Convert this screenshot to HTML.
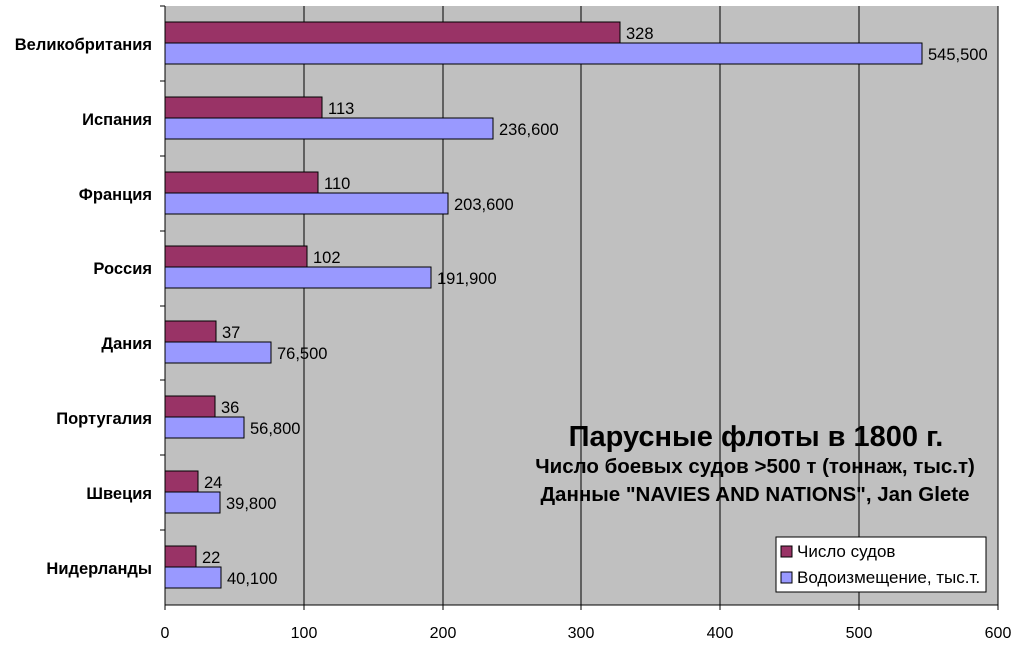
<!DOCTYPE html><html><head><meta charset="utf-8"><style>body{margin:0;background:#fff}svg{font-family:"Liberation Sans",sans-serif}</style></head><body>
<svg width="1018" height="645" xmlns="http://www.w3.org/2000/svg">
<rect x="165" y="6" width="833" height="599" fill="#c0c0c0"/>
<g stroke="#000" stroke-width="1">
<line x1="304" y1="6" x2="304" y2="605"/><line x1="443" y1="6" x2="443" y2="605"/><line x1="581" y1="6" x2="581" y2="605"/><line x1="720" y1="6" x2="720" y2="605"/><line x1="859" y1="6" x2="859" y2="605"/><line x1="998" y1="6" x2="998" y2="605"/>
<line x1="165" y1="6" x2="165" y2="605"/><line x1="165" y1="605" x2="998" y2="605"/>
</g>
<g stroke="#000" stroke-width="1">
<line x1="160" y1="6" x2="165" y2="6"/><line x1="160" y1="81" x2="165" y2="81"/><line x1="160" y1="156" x2="165" y2="156"/><line x1="160" y1="231" x2="165" y2="231"/><line x1="160" y1="306" x2="165" y2="306"/><line x1="160" y1="380" x2="165" y2="380"/><line x1="160" y1="455" x2="165" y2="455"/><line x1="160" y1="530" x2="165" y2="530"/>
<line x1="165" y1="605" x2="165" y2="610"/><line x1="304" y1="605" x2="304" y2="610"/><line x1="443" y1="605" x2="443" y2="610"/><line x1="581" y1="605" x2="581" y2="610"/><line x1="720" y1="605" x2="720" y2="610"/><line x1="859" y1="605" x2="859" y2="610"/><line x1="998" y1="605" x2="998" y2="610"/>
</g>
<g stroke="#000" stroke-width="1">
<rect x="165" y="22" width="455" height="21" fill="#993366"/><rect x="165" y="43" width="757" height="21" fill="#9999ff"/>
<rect x="165" y="97" width="157" height="21" fill="#993366"/><rect x="165" y="118" width="328" height="21" fill="#9999ff"/>
<rect x="165" y="172" width="153" height="21" fill="#993366"/><rect x="165" y="193" width="283" height="21" fill="#9999ff"/>
<rect x="165" y="246" width="142" height="21" fill="#993366"/><rect x="165" y="267" width="266" height="21" fill="#9999ff"/>
<rect x="165" y="321" width="51" height="21" fill="#993366"/><rect x="165" y="342" width="106" height="21" fill="#9999ff"/>
<rect x="165" y="396" width="50" height="21" fill="#993366"/><rect x="165" y="417" width="79" height="21" fill="#9999ff"/>
<rect x="165" y="471" width="33" height="21" fill="#993366"/><rect x="165" y="492" width="55" height="21" fill="#9999ff"/>
<rect x="165" y="546" width="31" height="21" fill="#993366"/><rect x="165" y="567" width="56" height="21" fill="#9999ff"/>
</g>
<g font-size="16.5" fill="#000">
<text x="626" y="39">328</text><text x="928" y="60">545,500</text>
<text x="328" y="114">113</text><text x="499" y="135">236,600</text>
<text x="324" y="189">110</text><text x="454" y="210">203,600</text>
<text x="313" y="263">102</text><text x="437" y="284">191,900</text>
<text x="222" y="338">37</text><text x="277" y="359">76,500</text>
<text x="221" y="413">36</text><text x="250" y="434">56,800</text>
<text x="204" y="488">24</text><text x="226" y="509">39,800</text>
<text x="202" y="563">22</text><text x="227" y="584">40,100</text>
</g>
<g font-size="16.5" font-weight="bold" text-anchor="end">
<text x="152" y="50">Великобритания</text><text x="152" y="125">Испания</text><text x="152" y="200">Франция</text><text x="152" y="274">Россия</text><text x="152" y="349">Дания</text><text x="152" y="424">Португалия</text><text x="152" y="499">Швеция</text><text x="152" y="574">Нидерланды</text>
</g>
<g font-size="16" text-anchor="middle">
<text x="165" y="638">0</text><text x="304" y="638">100</text><text x="443" y="638">200</text><text x="581" y="638">300</text><text x="720" y="638">400</text><text x="859" y="638">500</text><text x="998" y="638">600</text>
</g>
<g text-anchor="middle" font-weight="bold">
<text x="756" y="446" font-size="29">Парусные флоты в 1800 г.</text>
<text x="755" y="473" font-size="20.5">Число боевых судов &gt;500 т (тоннаж, тыс.т)</text>
<text x="755" y="501" font-size="20.5">Данные "NAVIES AND NATIONS", Jan Glete</text>
</g>
<rect x="776" y="537" width="210" height="55" fill="#fff" stroke="#000"/>
<rect x="781" y="546" width="11" height="11" fill="#993366" stroke="#000"/>
<rect x="781" y="572" width="11" height="11" fill="#9999ff" stroke="#000"/>
<text x="797" y="557" font-size="17">Число судов</text>
<text x="797" y="583" font-size="17">Водоизмещение, тыс.т.</text>
</svg>
</body></html>
